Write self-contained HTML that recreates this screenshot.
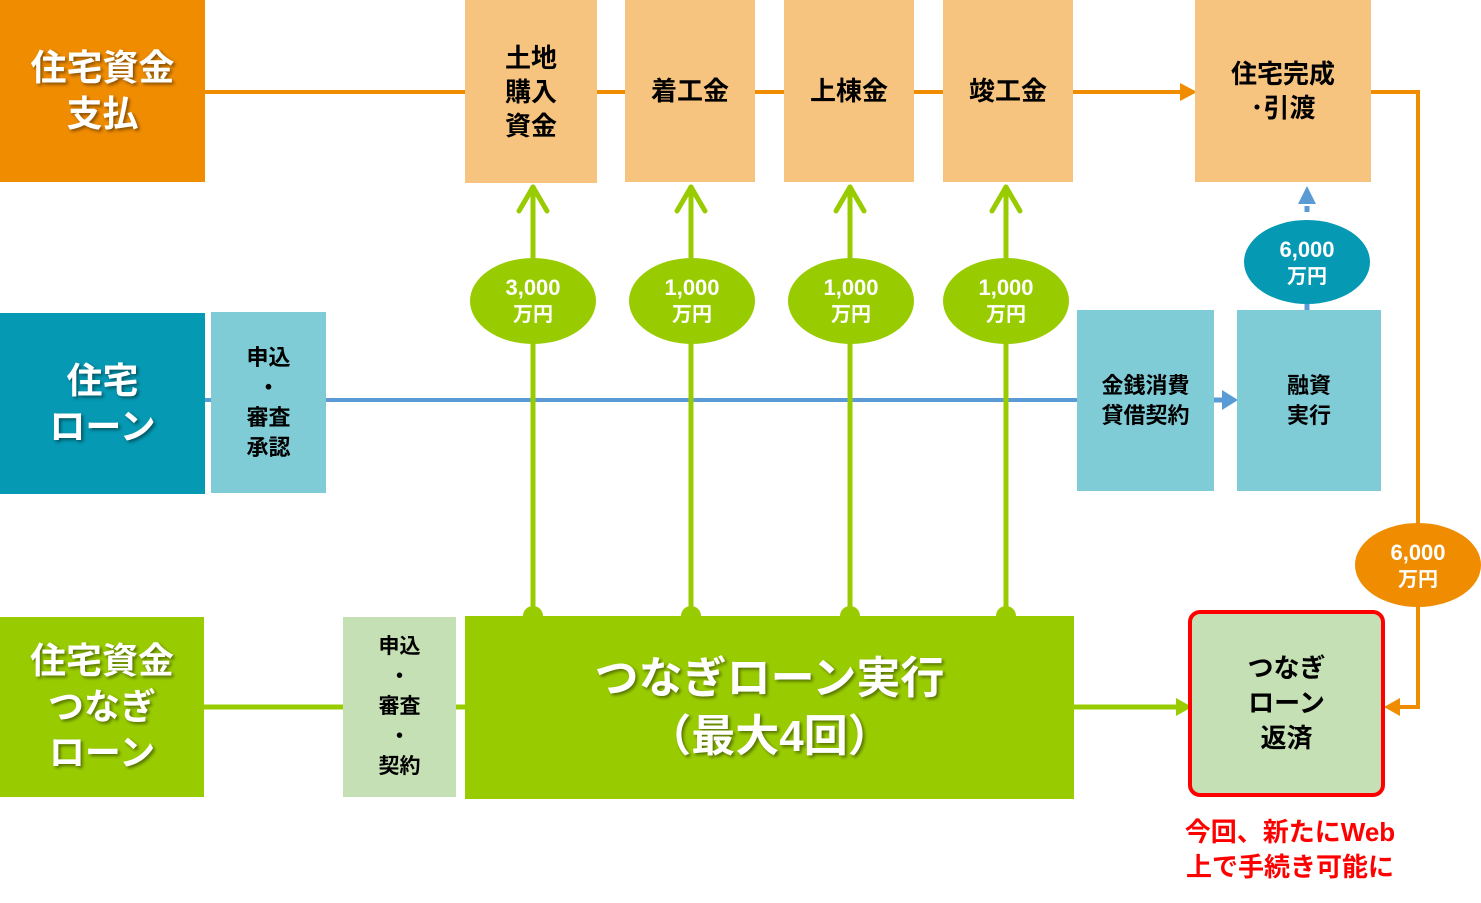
<!DOCTYPE html>
<html><head><meta charset="utf-8"><style>
body{margin:0;width:1481px;height:903px;background:#fff;position:relative;overflow:hidden;font-family:"Liberation Sans","Noto Sans CJK JP",sans-serif;font-weight:bold}
.b{position:absolute;display:flex;align-items:center;justify-content:center;text-align:center;box-sizing:border-box}
.h{color:#fff;font-size:36px;line-height:46px;text-shadow:2px 2px 3px rgba(0,0,0,.45)}
.p{background:#F7C480;color:#000;font-size:26px;line-height:34px}
.lb{background:#7FCBD6;color:#000;font-size:22px;line-height:30px}
.g{background:#C5E0B4;color:#000;font-size:21px;line-height:30px}
</style></head><body>
<svg width="1481" height="903" style="position:absolute;left:0;top:0">
<defs>
<marker id="ao" markerWidth="6" markerHeight="6" refX="3" refY="3" orient="auto" markerUnits="strokeWidth"><path d="M0,0L6,3L0,6z" fill="#F08C00"/></marker>
</defs>
<g stroke="#F08C00" stroke-width="4" fill="none">
<line x1="205" y1="92" x2="1185" y2="92"/>
<polyline points="1371,92 1418,92 1418,707 1395,707"/>
</g>
<path d="M1180,83L1197,92L1180,101z" fill="#F08C00"/>
<path d="M1400,698L1384,707L1400,716z" fill="#F08C00"/>
<line x1="205" y1="400" x2="1077" y2="400" stroke="#5B9BD5" stroke-width="4"/>
<line x1="1214" y1="400" x2="1225" y2="400" stroke="#5B9BD5" stroke-width="5"/>
<path d="M1222,390L1238,400L1222,410z" fill="#5B9BD5"/>
<line x1="1307" y1="310" x2="1307" y2="200" stroke="#5B9BD5" stroke-width="5" stroke-dasharray="6,8"/>
<path d="M1298,204L1307,186L1316,204z" fill="#5B9BD5"/>
<g stroke="#99CC00" stroke-width="5" fill="none" stroke-linecap="round" stroke-linejoin="round">
<line x1="533" y1="612" x2="533" y2="187"/><polyline points="519,211 533,187 547,211"/>
<line x1="691" y1="612" x2="691" y2="187"/><polyline points="677,211 691,187 705,211"/>
<line x1="850" y1="612" x2="850" y2="187"/><polyline points="836,211 850,187 864,211"/>
<line x1="1006" y1="612" x2="1006" y2="187"/><polyline points="992,211 1006,187 1020,211"/>
<line x1="204" y1="707" x2="343" y2="707"/>
<line x1="456" y1="707" x2="465" y2="707"/>
<line x1="1074" y1="707" x2="1178" y2="707"/>
</g>
<path d="M1176,698L1192,707L1176,716z" fill="#99CC00"/>
<g fill="#99CC00"><circle cx="533" cy="616" r="10"/><circle cx="691" cy="616" r="10"/><circle cx="850" cy="616" r="10"/><circle cx="1006" cy="616" r="10"/>
<ellipse cx="533" cy="301" rx="63" ry="43"/><ellipse cx="692" cy="301" rx="63" ry="43"/><ellipse cx="851" cy="301" rx="63" ry="43"/><ellipse cx="1006" cy="301" rx="63" ry="43"/></g>
<ellipse cx="1307" cy="262" rx="63" ry="42" fill="#0599B3"/>
<ellipse cx="1418" cy="565" rx="63" ry="42" fill="#F08C00"/>
<g fill="#fff" font-size="22" text-anchor="middle" font-family="Liberation Sans,Noto Sans CJK JP,sans-serif" font-weight="bold">
<text x="533" y="295">3,000</text><text x="533" y="321" font-size="20">万円</text>
<text x="692" y="295">1,000</text><text x="692" y="321" font-size="20">万円</text>
<text x="851" y="295">1,000</text><text x="851" y="321" font-size="20">万円</text>
<text x="1006" y="295">1,000</text><text x="1006" y="321" font-size="20">万円</text>
<text x="1307" y="257">6,000</text><text x="1307" y="283" font-size="20">万円</text>
<text x="1418" y="560">6,000</text><text x="1418" y="586" font-size="20">万円</text>
</g>
</svg>
<div class="b h" style="left:0;top:0;width:205px;height:182px;background:#F08C00">住宅資金<br>支払</div>
<div class="b h" style="left:0;top:313px;width:205px;height:181px;background:#0599B3">住宅<br>ローン</div>
<div class="b h" style="left:0;top:617px;width:204px;height:180px;background:#99CC00">住宅資金<br>つなぎ<br>ローン</div>
<div class="b p" style="left:465px;top:0;width:132px;height:183px">土地<br>購入<br>資金</div>
<div class="b p" style="left:625px;top:0;width:130px;height:182px">着工金</div>
<div class="b p" style="left:784px;top:0;width:130px;height:182px">上棟金</div>
<div class="b p" style="left:943px;top:0;width:130px;height:182px">竣工金</div>
<div class="b p" style="left:1195px;top:0;width:176px;height:182px">住宅完成<br>･引渡</div>
<div class="b lb" style="left:211px;top:312px;width:115px;height:181px">申込<br>・<br>審査<br>承認</div>
<div class="b lb" style="left:1077px;top:310px;width:137px;height:181px">金銭消費<br>貸借契約</div>
<div class="b lb" style="left:1237px;top:310px;width:144px;height:181px">融資<br>実行</div>
<div class="b g" style="left:343px;top:617px;width:113px;height:180px">申込<br>・<br>審査<br>・<br>契約</div>
<div class="b h" style="left:465px;top:616px;width:609px;height:183px;background:#99CC00;font-size:44px;line-height:58px">つなぎローン実行<br>（最大4回）</div>
<div class="b" style="left:1188px;top:610px;width:197px;height:187px;border:4px solid #FF0000;border-radius:12px;background:#C5E0B4;font-size:26px;line-height:35px;color:#000">つなぎ<br>ローン<br>返済</div>
<div style="position:absolute;left:1170px;top:815px;width:240px;text-align:center;color:#FF0000;font-size:26px;line-height:35px">今回、新たにWeb<br>上で手続き可能に</div>
</body></html>
